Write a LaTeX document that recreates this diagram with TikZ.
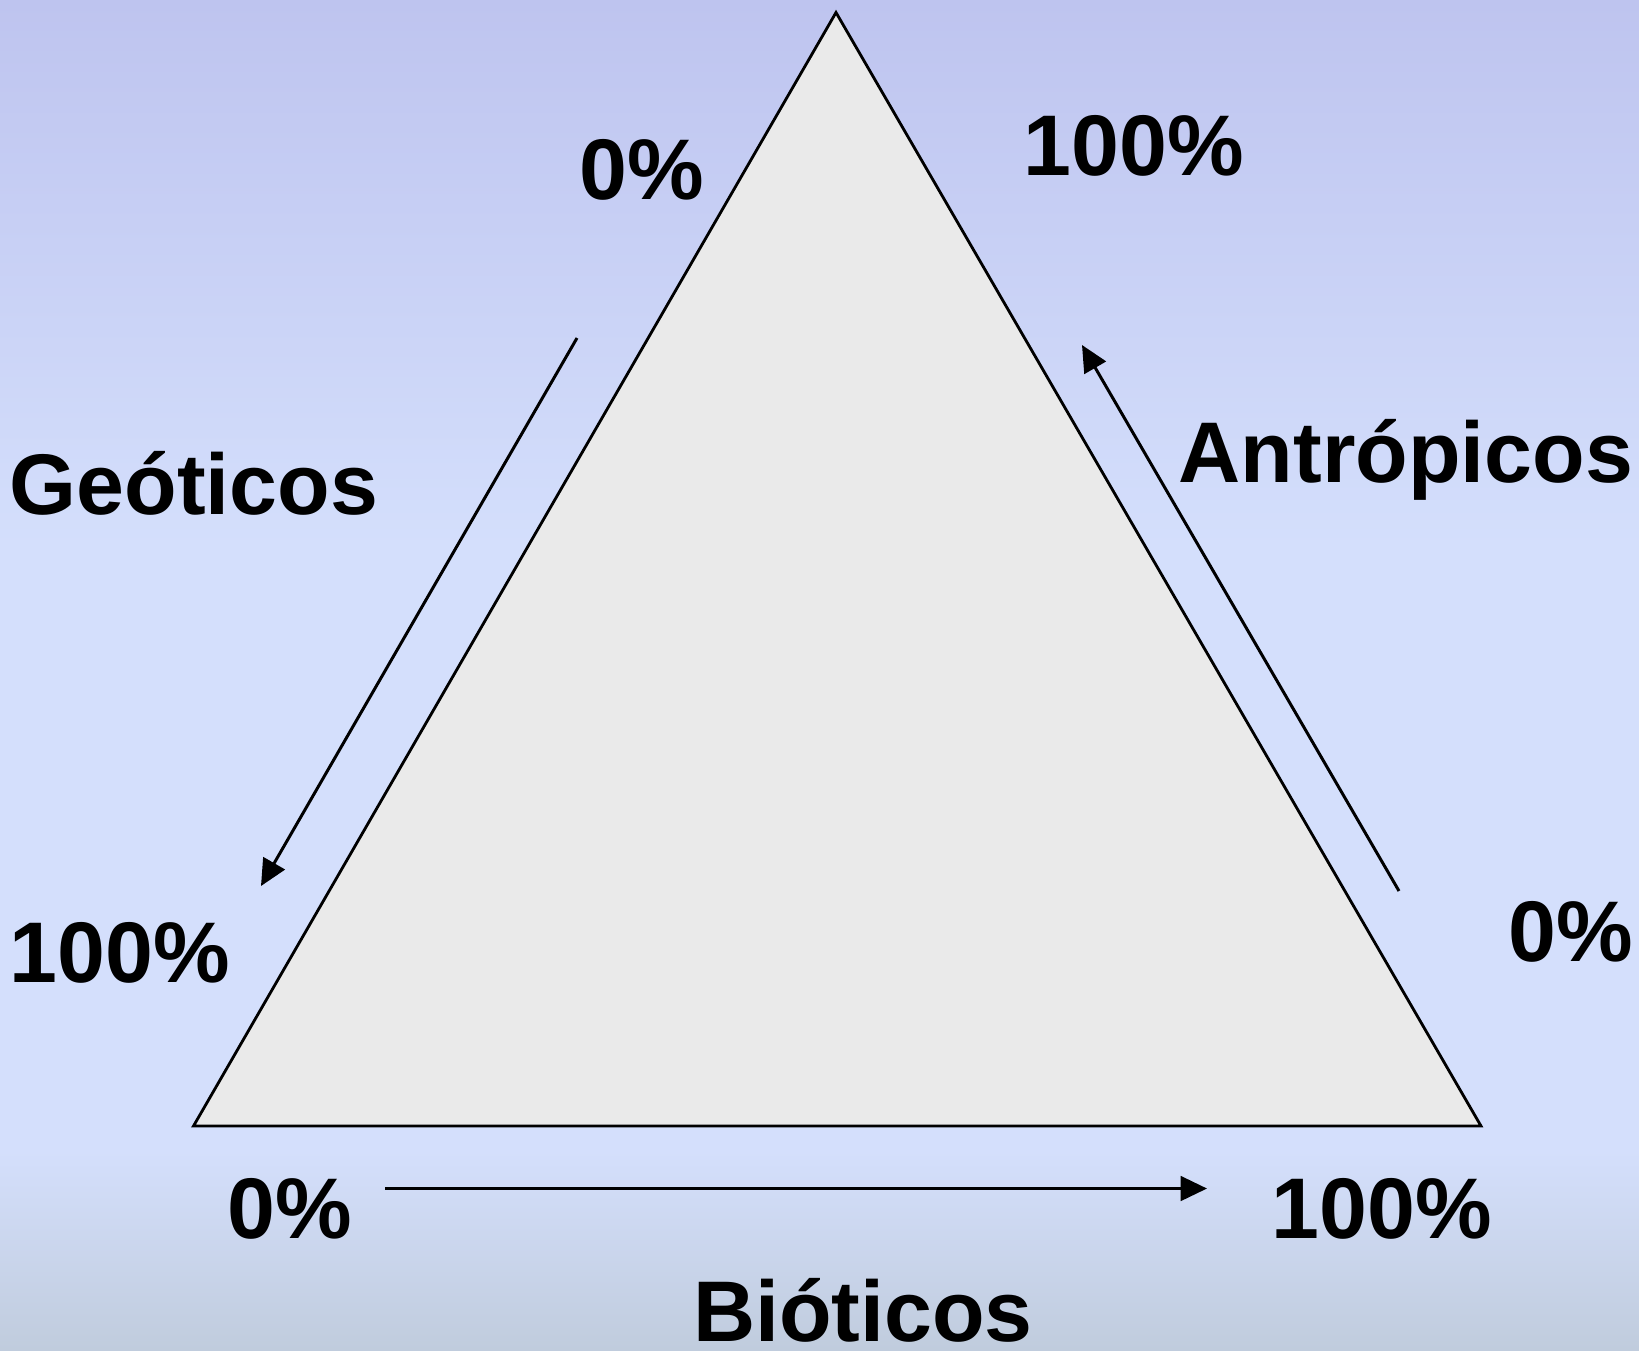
\documentclass[tikz,border=0pt]{standalone}
\usepackage{fontspec}
\setmainfont{Liberation Sans}
\usetikzlibrary{arrows.meta}
\definecolor{bgtop}{HTML}{BEC4EF}
\definecolor{bgmid}{HTML}{D4DFFC}
\definecolor{bgbot}{HTML}{C0CCDD}
\definecolor{trifill}{HTML}{EAEAEA}
\tikzset{
	lbl/.style = {font=\fontsize{49}{58}\selectfont\bfseries, inner sep=0pt},
	flow/.style = {line width=1.7pt, -{Triangle[length=15pt, width=14pt]}}
}
\begin{document}
\begin{tikzpicture} [x = 0.02cm, y = -0.02cm]
	\useasboundingbox (0,0) rectangle (1639,1350);
	% background
	\shade [top color = bgtop, bottom color = bgmid] (0,0) rectangle (1639,550);
	\fill [bgmid] (0,549) rectangle (1639,1151);
	\shade [top color = bgmid, bottom color = bgbot] (0,1150) rectangle (1639,1350);
	% triangle
	\coordinate (apex) at (836,12.5);
	\coordinate (left) at (193.5,1126);
	\coordinate (right) at (1481,1126);
	\draw [line width=1.6pt, fill = trifill, line join = miter] (apex) -- (left) -- (right) -- cycle;
	% arrows
	\coordinate (g0) at (577,338);
	\coordinate (g1) at (261,886);
	\coordinate (a0) at (1399,891);
	\coordinate (a1) at (1082,345);
	\coordinate (b0) at (385,1188.5);
	\coordinate (b1) at (1207,1188.5);
	\draw [flow] (g0) -- (g1);
	\draw [flow] (a0) -- (a1);
	\draw [flow] (b0) -- (b1);
	% labels
	\node [lbl] (geo) at (194,483) {Geóticos};
	\node [lbl] (antro) at (1406,460) {Antrópicos};
	\node [lbl, anchor = base] (bio) at (863,1341) {Bióticos};
	\node [lbl] (geo0) at (642,170) {0\%};
	\node [lbl] (geo100) at (120,953) {100\%};
	\node [lbl] (antro100) at (1134,146) {100\%};
	\node [lbl] (antro0) at (1571,932) {0\%};
	\node [lbl] (bio0) at (290,1209) {0\%};
	\node [lbl] (bio100) at (1382,1209) {100\%};
\end{tikzpicture}
\end{document}
